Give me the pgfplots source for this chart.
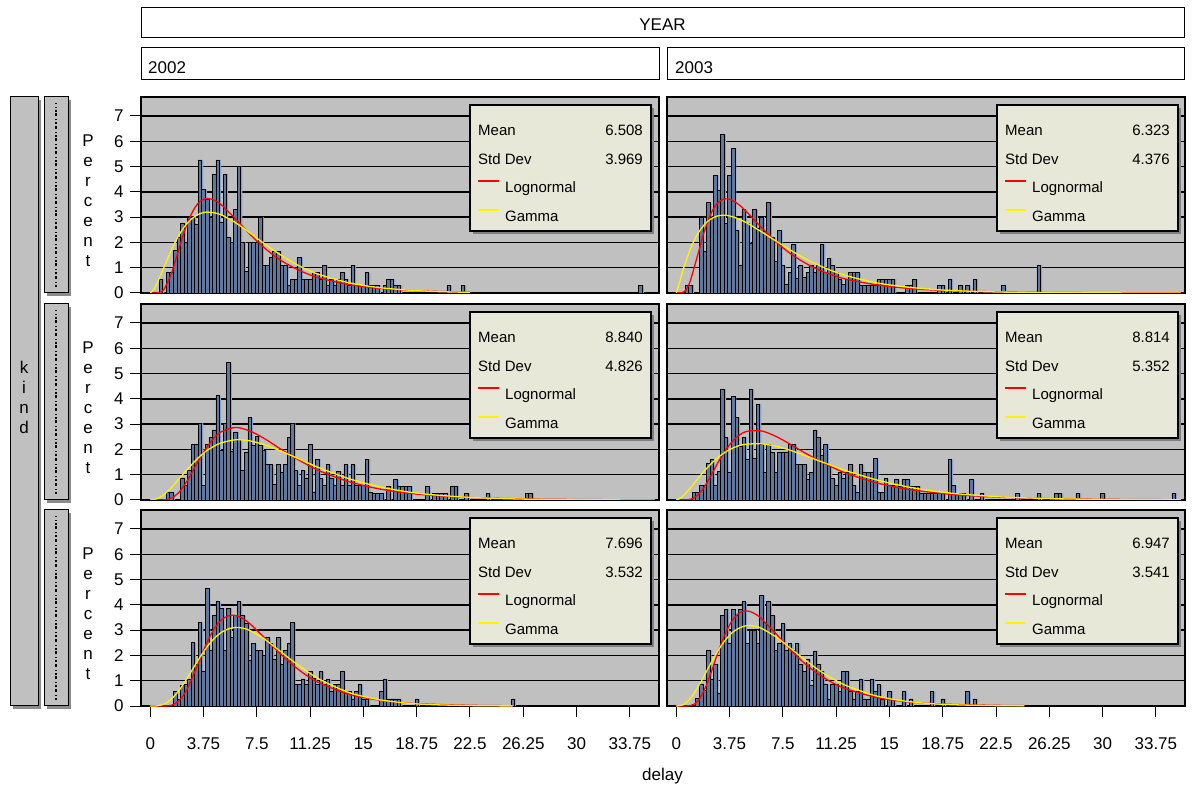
\documentclass[border=0pt]{standalone}
\usepackage{fontspec}
\setmainfont{Liberation Sans}
\usepackage{pgfplots}
\usepackage{pgfplotstable}
\pgfplotsset{compat=1.18}
\definecolor{panelgrey}{RGB}{192,192,192}
\definecolor{barblue}{RGB}{96,120,158}
\definecolor{barshadow}{RGB}{140,162,196}
\definecolor{insetbg}{RGB}{232,232,216}
\newcommand{\lab}{\fontsize{17}{20}\selectfont}
\newcommand{\inlab}{\fontsize{15}{18}\selectfont}

% ---------- histograms (percent per 0.25 bin, bin midpoints) ----------
\pgfplotstableread{
x y
0.75 0.55
1.25 0.8
1.5 0.8
1.75 1.67
2.0 2.2
2.25 2.76
2.5 2.0
2.75 3.0
3.0 3.0
3.25 2.7
3.5 5.26
3.75 4.1
4.0 3.7
4.25 3.0
4.5 4.7
4.75 5.26
5.0 2.8
5.25 4.7
5.5 2.2
5.75 2.0
6.0 3.3
6.25 5.0
6.5 2.0
6.75 0.85
7.0 2.0
7.25 2.0
7.5 2.0
7.75 3.0
8.0 1.1
8.25 1.1
8.5 1.4
8.75 1.65
9.0 1.65
9.25 1.1
9.5 1.1
9.75 0.3
10.0 0.55
10.25 0.55
10.5 1.4
10.75 0.55
11.0 0.55
11.25 0.55
11.5 0.8
11.75 0.8
12.0 0.55
12.25 1.1
12.5 0.3
12.75 0.55
13.0 0.3
13.25 0.55
13.5 0.8
13.75 0.55
14.0 0.3
14.25 1.1
14.5 0.3
14.75 0.3
15.0 0.3
15.25 0.8
15.5 0.3
15.75 0.3
16.0 0.3
16.5 0.3
16.75 0.55
17.0 0.55
17.25 0.3
17.5 0.3
21.0 0.3
22.0 0.3
34.5 0.3
}\histA

\pgfplotstableread{
x y
0.75 0.3
1.0 0.3
1.75 3.0
2.0 1.65
2.25 3.57
2.5 3.0
2.75 4.64
3.0 4.05
3.25 6.27
3.5 2.75
3.75 4.64
4.0 5.71
4.25 2.48
4.5 1.1
4.75 3.3
5.0 2.75
5.25 1.96
5.5 3.3
5.75 2.55
6.0 3.0
6.25 2.42
6.5 3.57
6.75 2.2
7.0 1.24
7.25 2.48
7.5 1.08
7.75 0.33
8.0 0.82
8.25 1.92
8.5 0.59
8.75 1.08
9.0 0.61
9.25 0.82
9.5 1.08
9.75 0.82
10.0 1.08
10.25 1.92
10.5 0.82
10.75 1.37
11.0 1.08
11.25 0.82
11.5 0.52
11.75 0.33
12.0 0.52
12.25 0.82
12.5 0.8
12.75 0.8
13.0 0.3
13.25 0.3
13.5 0.3
13.75 0.3
14.0 0.3
14.25 0.55
14.5 0.55
14.75 0.55
15.0 0.55
15.25 0.55
16.25 0.3
16.5 0.3
16.75 0.55
18.5 0.3
18.75 0.3
19.25 0.55
20.0 0.3
20.5 0.3
21.0 0.55
23.0 0.3
25.5 1.1
}\histB

\pgfplotstableread{
x y
1.25 0.3
1.5 0.3
2.25 0.87
2.5 0.58
2.75 1.17
3.0 2.2
3.25 2.2
3.5 3.03
3.75 0.56
4.0 2.2
4.25 2.47
4.5 2.77
4.75 4.12
5.0 1.95
5.25 3.03
5.5 5.44
5.75 1.91
6.0 2.69
6.25 2.4
6.5 1.17
6.75 1.9
7.0 3.25
7.25 2.17
7.5 2.53
7.75 2.17
8.0 1.95
8.25 1.39
8.5 1.39
8.75 0.61
9.0 1.39
9.25 1.1
9.5 1.39
9.75 2.47
10.0 3.03
10.25 1.17
10.5 0.58
10.75 1.17
11.0 0.87
11.25 2.2
11.5 0.32
11.75 1.62
12.0 0.84
12.25 0.58
12.5 1.39
12.75 0.87
13.0 0.58
13.25 1.13
13.5 0.58
13.75 1.39
14.0 0.58
14.25 1.39
14.5 0.58
14.75 0.58
15.0 0.58
15.25 1.62
15.5 0.3
15.75 0.26
16.0 0.26
16.25 0.26
16.75 0.55
17.25 0.8
17.5 0.55
17.75 0.55
18.0 0.55
18.25 0.55
19.5 0.55
20.0 0.26
20.25 0.26
20.5 0.26
20.75 0.26
21.25 0.55
21.5 0.55
22.25 0.26
23.75 0.26
26.5 0.26
26.75 0.26
}\histC

\pgfplotstableread{
x y
1.25 0.3
1.5 0.3
1.75 0.58
2.0 0.56
2.25 1.43
2.5 1.62
2.75 0.56
3.0 1.13
3.25 4.39
3.5 2.47
3.75 1.1
4.0 4.09
4.25 3.27
4.5 2.14
4.75 2.47
5.0 1.6
5.25 4.39
5.5 1.65
5.75 3.8
6.0 2.2
6.25 1.1
6.5 2.2
6.75 1.88
7.0 1.1
7.25 1.9
7.5 1.9
7.75 1.9
8.0 2.2
8.25 2.2
8.5 1.39
8.75 1.39
9.0 1.39
9.25 0.82
9.5 1.1
9.75 2.77
10.0 2.47
10.25 1.75
10.5 2.2
10.75 1.36
11.0 0.84
11.25 0.58
11.5 1.1
11.75 0.84
12.0 1.1
12.25 1.39
12.5 0.58
12.75 0.3
13.0 1.39
13.25 1.1
13.5 1.1
13.75 1.1
14.0 1.65
14.25 0.3
14.5 0.3
14.75 0.84
15.0 0.58
15.25 0.58
15.5 0.8
15.75 0.55
16.0 0.8
16.25 0.8
16.5 0.55
16.75 0.55
17.0 0.55
17.25 0.26
17.5 0.26
17.75 0.26
18.0 0.26
18.25 0.26
18.5 0.26
18.75 0.26
19.25 1.6
19.5 0.58
19.75 0.26
20.0 0.26
20.25 0.26
20.75 0.8
21.5 0.26
24.0 0.26
25.5 0.26
26.75 0.26
27.0 0.26
28.25 0.26
30.0 0.26
35.0 0.26
}\histD

\pgfplotstableread{
x y
1.75 0.57
2.0 0.28
2.25 0.8
2.5 0.84
2.75 1.07
3.0 2.5
3.25 1.66
3.5 3.3
3.75 1.37
4.0 4.66
4.25 2.2
4.5 3.57
4.75 4.12
5.0 3.87
5.25 2.2
5.5 3.87
5.75 2.7
6.0 3.57
6.25 4.12
6.5 3.57
6.75 3.26
7.0 1.79
7.25 2.47
7.5 2.2
7.75 2.2
8.0 1.99
8.25 2.7
8.5 2.47
8.75 1.85
9.0 2.7
9.25 1.66
9.5 2.2
9.75 2.47
10.0 3.3
10.25 0.84
10.5 0.84
10.75 1.07
11.0 0.84
11.25 1.37
11.5 1.1
11.75 0.84
12.0 1.37
12.25 0.84
12.5 1.07
12.75 0.57
13.0 0.84
13.25 0.84
13.5 1.37
13.75 0.57
14.0 0.57
14.25 0.28
14.5 0.57
14.75 0.84
15.0 0.28
15.25 0.28
16.25 0.57
16.5 1.07
16.75 0.28
17.0 0.28
17.25 0.28
17.5 0.28
18.75 0.28
25.5 0.28
}\histE

\pgfplotstableread{
x y
1.5 0.3
1.75 0.87
2.0 0.6
2.25 2.2
2.5 1.07
2.75 1.66
3.0 0.5
3.25 3.57
3.5 3.83
3.75 2.47
4.0 3.83
4.25 3.57
4.5 3.83
4.75 4.12
5.0 2.47
5.25 3.0
5.5 3.0
5.75 2.47
6.0 4.36
6.25 3.3
6.5 4.12
6.75 3.57
7.0 2.2
7.25 2.47
7.5 3.26
7.75 2.2
8.0 2.47
8.25 2.2
8.5 2.47
8.75 1.66
9.0 1.37
9.25 1.85
9.5 0.8
9.75 2.18
10.0 1.66
10.25 1.37
10.5 0.87
10.75 0.28
11.0 0.84
11.25 0.84
11.5 0.57
11.75 1.37
12.0 1.37
12.25 0.57
12.5 0.28
12.75 0.57
13.0 1.07
13.25 0.28
13.5 0.28
13.75 1.07
14.0 0.57
14.25 0.84
14.5 0.28
15.0 0.57
15.25 0.28
16.0 0.57
16.5 0.28
18.0 0.57
18.75 0.28
20.5 0.57
21.0 0.28
}\histF

% ---------- fitted curves (percent per bin) ----------
\pgfplotstableread{
x y
0 0
0.5 0.004
0.75 0.042
1 0.17
1.5 0.79
2 1.70
2.5 2.59
3 3.24
3.5 3.62
4 3.74
4.5 3.67
5 3.49
6 2.93
7 2.33
8 1.80
9 1.36
10 1.03
11 0.77
12 0.58
14 0.33
16 0.19
18 0.11
20 0.066
22.5 0.035
}\lnA
\pgfplotstableread{
x y
0 0
0.25 0.14
0.5 0.41
1 1.06
1.5 1.71
2 2.27
2.5 2.69
3 2.97
3.5 3.14
4 3.20
4.5 3.17
5 3.09
6 2.78
7 2.38
8 1.96
9 1.57
10 1.22
11 0.93
12 0.71
14 0.40
16 0.22
18 0.12
20 0.06
22.5 0.025
}\gmA
\pgfplotstableread{
x y
0 0
0.5 0.03
0.75 0.18
1 0.50
1.5 1.48
2 2.48
2.5 3.21
3 3.61
3.5 3.73
4 3.65
4.5 3.45
5 3.18
6 2.59
7 2.03
8 1.57
9 1.21
10 0.92
11 0.71
12 0.54
14 0.33
16 0.20
18 0.12
20 0.078
23 0.041
27 0.018
32 0.007
35.5 0.004
}\lnB
\pgfplotstableread{
x y
0 0
0.25 0.45
0.5 0.95
1 1.75
1.5 2.33
2 2.72
2.5 2.95
3 3.06
3.5 3.07
4 3.01
4.5 2.90
5 2.76
6 2.42
7 2.06
8 1.71
9 1.38
10 1.10
11 0.87
12 0.68
14 0.41
16 0.25
18 0.145
20 0.084
23 0.036
27 0.012
32 0.003
35.5 0.001
}\gmB
\pgfplotstableread{
x y
0 0
1 0.006
1.5 0.074
2 0.29
2.5 0.67
3 1.15
3.5 1.66
4 2.10
4.5 2.46
5 2.70
6 2.87
7 2.73
8 2.44
9 2.08
10 1.73
11 1.41
12 1.13
14 0.72
16 0.45
18 0.28
20 0.175
23 0.088
27 0.037
32 0.013
35.5 0.007
}\lnC
\pgfplotstableread{
x y
0 0
0.5 0.055
1 0.23
1.5 0.50
2 0.82
2.5 1.14
3 1.45
3.5 1.73
4 1.96
4.5 2.13
5 2.26
6 2.38
7 2.34
8 2.19
9 1.98
10 1.74
11 1.49
12 1.25
14 0.84
16 0.54
18 0.33
20 0.20
23 0.089
27 0.028
32 0.006
35.5 0.002
}\gmC
\pgfplotstableread{
x y
0 0
1 0.027
1.5 0.19
2 0.54
2.5 1.02
3 1.54
3.5 1.99
4 2.35
4.5 2.59
5 2.72
6 2.73
7 2.52
8 2.21
9 1.88
10 1.57
11 1.29
12 1.05
14 0.69
16 0.45
18 0.30
20 0.195
23 0.106
27 0.049
32 0.020
35.5 0.011
}\lnD
\pgfplotstableread{
x y
0 0
0.25 0.057
0.5 0.17
1 0.48
1.5 0.83
2 1.16
2.5 1.46
3 1.71
3.5 1.91
4 2.06
4.5 2.16
5 2.21
6 2.22
7 2.13
8 1.97
9 1.77
10 1.56
11 1.35
12 1.15
14 0.81
16 0.55
18 0.36
20 0.235
23 0.119
27 0.046
32 0.013
35.5 0.006
}\gmD
\pgfplotstableread{
x y
0 0
1 0.001
1.5 0.031
2 0.19
2.5 0.57
3 1.17
3.5 1.86
4 2.52
4.5 3.05
5 3.40
5.5 3.57
6 3.58
6.5 3.46
7 3.26
8 2.72
9 2.15
10 1.63
11 1.21
12 0.89
14 0.46
16 0.24
18 0.12
20 0.064
23 0.024
25.5 0.011
}\lnE
\pgfplotstableread{
x y
0 0
0.5 0.008
1 0.082
1.5 0.28
2 0.60
2.5 1.01
3 1.47
3.5 1.93
4 2.34
4.5 2.67
5 2.91
5.5 3.05
6 3.11
6.5 3.08
7 2.99
8 2.66
9 2.23
10 1.79
11 1.38
12 1.03
14 0.53
16 0.26
18 0.116
20 0.050
23 0.013
25.5 0.004
}\gmE
\pgfplotstableread{
x y
0 0
1 0.016
1.5 0.18
2 0.66
2.5 1.40
3 2.22
3.5 2.93
4 3.43
4.5 3.70
5 3.76
5.5 3.66
6 3.45
7 2.87
8 2.25
9 1.70
10 1.26
11 0.92
12 0.67
14 0.35
16 0.18
18 0.098
20 0.053
23 0.022
24.5 0.014
}\lnF
\pgfplotstableread{
x y
0 0
0.5 0.054
1 0.30
1.5 0.72
2 1.23
2.5 1.76
3 2.24
3.5 2.64
4 2.93
4.5 3.10
5 3.18
5.5 3.16
6 3.07
7 2.74
8 2.30
9 1.85
10 1.43
11 1.08
12 0.80
14 0.41
16 0.20
18 0.091
20 0.041
23 0.011
24.5 0.006
}\gmF

\pgfplotsset{
  panel/.style={scale only axis, width=518pt, height=196pt, anchor=south west,
    xmin=-0.65, xmax=35.8, ymin=0, ymax=7.75,
    axis background/.style={fill=panelgrey},
    ytick={1,2,3,4,5,6,7}, yticklabels={}, ymajorgrids,
    grid style={black, line width=1.5pt},
    axis line style={black, line width=1.5pt},
    tick align=outside, major tick length=11pt,
    xtick=\empty,
    ytick style={draw=none},
    /pgf/number format/assume math mode=true,
    clip=true},
  leftcol/.style={ytick={0,1,2,3,4,5,6,7}, yticklabels={0,1,2,3,4,5,6,7},
    ytick pos=left, ytick style={draw=black, line width=1pt},
    yticklabel style={font=\lab, xshift=-3pt}},
  bottomrow/.style={xtick={0,3.75,7.5,11.25,15,18.75,22.5,26.25,30,33.75},
    xticklabels={0,3.75,7.5,11.25,15,18.75,22.5,26.25,30,33.75},
    xtick pos=left, xtick style={draw=black, line width=1pt},
    xticklabel style={font=\lab, yshift=-17pt}},
  hshadow/.style={ybar, bar width=0.25, bar shift=1.6pt, fill=barshadow, draw=none},
  hbar/.style={ybar, bar width=0.25, bar shift=0pt, fill=barblue, draw=black, line width=0.7pt},
  lncurve/.style={red, line width=1.3pt, smooth, no markers},
  gmcurve/.style={yellow, line width=1.3pt, smooth, no markers},
}

\newcommand{\inset}[4]{% #1 left x, #2 top y, #3 mean, #4 sd
  \fill[black!50] (#1+3,#2-129) rectangle (#1+184,#2-3);
  \draw[black, line width=1.2pt, fill=insetbg] (#1,#2-126) rectangle (#1+181,#2);
  \node[anchor=base west, font=\inlab, inner sep=0pt] at (#1+8,#2-31) {Mean};
  \node[anchor=base east, font=\inlab, inner sep=0pt] at (#1+173,#2-31) {#3};
  \node[anchor=base west, font=\inlab, inner sep=0pt] at (#1+8,#2-59.5) {Std Dev};
  \node[anchor=base east, font=\inlab, inner sep=0pt] at (#1+173,#2-59.5) {#4};
  \draw[red, line width=1.5pt] (#1+8,#2-76) -- (#1+29,#2-76);
  \node[anchor=base west, font=\inlab, inner sep=0pt] at (#1+35,#2-88) {Lognormal};
  \draw[yellow, line width=1.5pt] (#1+8,#2-105) -- (#1+29,#2-105);
  \node[anchor=base west, font=\inlab, inner sep=0pt] at (#1+35,#2-116.5) {Gamma};
}

\begin{document}
\begin{tikzpicture}[x=1pt,y=1pt]
\path[use as bounding box] (0,0) rectangle (1192,785);

% header strips
\draw[black, line width=1pt, fill=white] (141,747) rectangle (1184,777);
\node[font=\lab] at (662.5,760) {YEAR};
\draw[black, line width=1pt, fill=white] (141,705) rectangle (659,737);
\node[font=\lab, anchor=west, inner sep=0pt] at (148,717) {2002};
\draw[black, line width=1pt, fill=white] (667,705) rectangle (1184,737);
\node[font=\lab, anchor=west, inner sep=0pt] at (675,717) {2003};

% left strips
\fill[black!45] (13,76) rectangle (41,685);
\draw[black, line width=1pt, fill=panelgrey] (10,79) rectangle (38,688);
\node[font=\lab, align=center, inner sep=0pt] at (24,388) {\fontsize{17}{19.5}\selectfont k\\i\\n\\d};
\foreach \yb in {492,285,79} {
  \fill[black!45] (47,\yb-3) rectangle (71,\yb+193);
  \draw[black, line width=1pt, fill=panelgrey] (44,\yb) rectangle (68,\yb+196);
  \draw[black, line width=1.3pt, dash pattern=on 2pt off 2pt on 1pt off 3pt on 3pt off 1.5pt] (56,\yb+6) -- (56,\yb+190);
  \node[font=\lab, align=center, inner sep=0pt] at (88,\yb+92) {\fontsize{17}{20}\selectfont P\\e\\r\\c\\e\\n\\t};
}

% ---------- row 1 ----------
\begin{axis}[panel, leftcol, at={(141pt,492pt)}]
\addplot[hshadow] table {\histA};
\addplot[hbar] table {\histA};
\addplot[lncurve] table {\lnA};
\addplot[gmcurve] table {\gmA};
\end{axis}
\begin{axis}[panel, at={(667pt,492pt)}]
\addplot[hshadow] table {\histB};
\addplot[hbar] table {\histB};
\addplot[lncurve] table {\lnB};
\addplot[gmcurve] table {\gmB};
\end{axis}
% ---------- row 2 ----------
\begin{axis}[panel, leftcol, at={(141pt,285pt)}]
\addplot[hshadow] table {\histC};
\addplot[hbar] table {\histC};
\addplot[lncurve] table {\lnC};
\addplot[gmcurve] table {\gmC};
\end{axis}
\begin{axis}[panel, at={(667pt,285pt)}]
\addplot[hshadow] table {\histD};
\addplot[hbar] table {\histD};
\addplot[lncurve] table {\lnD};
\addplot[gmcurve] table {\gmD};
\end{axis}
% ---------- row 3 ----------
\begin{axis}[panel, leftcol, bottomrow, at={(141pt,79pt)}]
\addplot[hshadow] table {\histE};
\addplot[hbar] table {\histE};
\addplot[lncurve] table {\lnE};
\addplot[gmcurve] table {\gmE};
\end{axis}
\begin{axis}[panel, bottomrow, at={(667pt,79pt)}]
\addplot[hshadow] table {\histF};
\addplot[hbar] table {\histF};
\addplot[lncurve] table {\lnF};
\addplot[gmcurve] table {\gmF};
\end{axis}

% insets
\inset{470}{680}{6.508}{3.969}
\inset{997}{680}{6.323}{4.376}
\inset{470}{473}{8.840}{4.826}
\inset{997}{473}{8.814}{5.352}
\inset{470}{267}{7.696}{3.532}
\inset{997}{267}{6.947}{3.541}

\node[font=\lab] at (662.5,9) {delay};
\end{tikzpicture}
\end{document}
